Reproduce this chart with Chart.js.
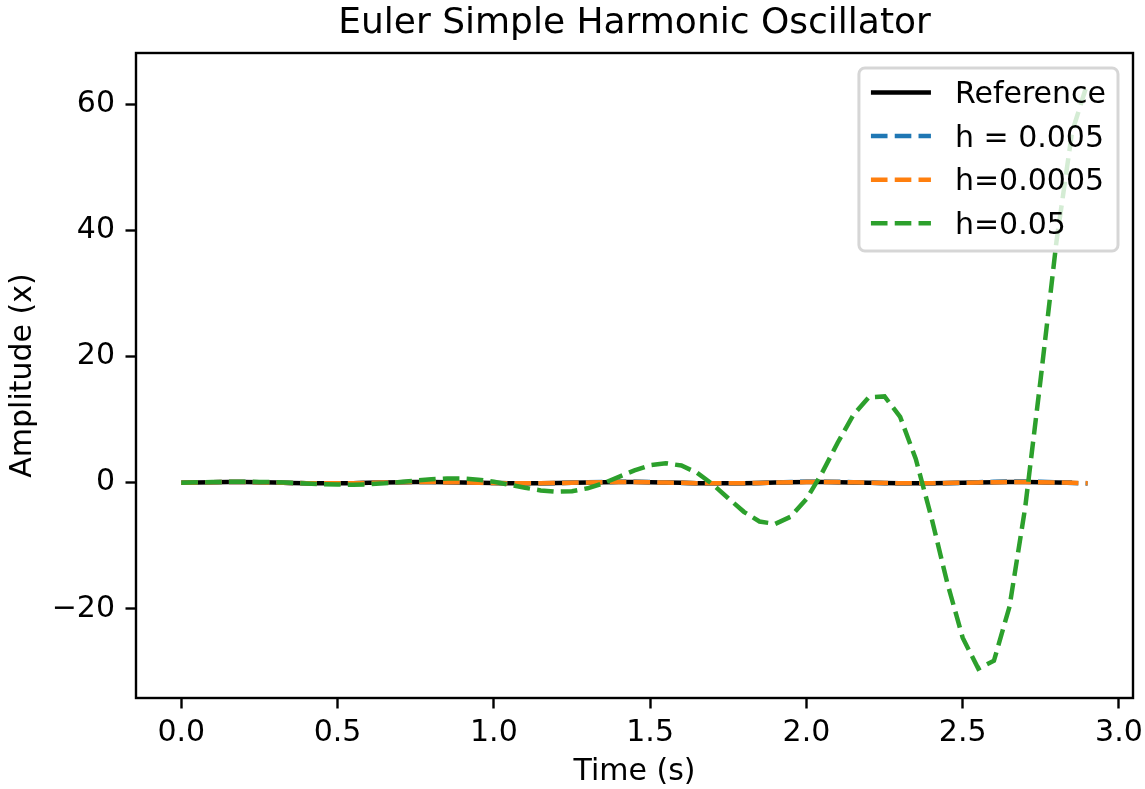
<!DOCTYPE html>
<html lang="en">
<head>
    <meta charset="UTF-8">
    <title>Euler Simple Harmonic Oscillator</title>
    <script src="https://cdn.jsdelivr.net/npm/chart.js"></script>
    <style>
        body {
            margin: 0;
            background-color: #ffffff;
        }
        .chart-box {
            width: 1145px;
            height: 789px;
        }
    </style>
</head>
<body>
    <div class="chart-box">
        <canvas id="oscChart" width="1145" height="789"></canvas>
    </div>

    <script>
        // time samples (s), step 0.05
        var timeS = [0, 0.05, 0.1, 0.15, 0.2, 0.25, 0.3, 0.35, 0.4, 0.45,
                     0.5, 0.55, 0.6, 0.65, 0.7, 0.75, 0.8, 0.85, 0.9, 0.95,
                     1.0, 1.05, 1.1, 1.15, 1.2, 1.25, 1.3, 1.35, 1.4, 1.45,
                     1.5, 1.55, 1.6, 1.65, 1.7, 1.75, 1.8, 1.85, 1.9, 1.95,
                     2.0, 2.05, 2.1, 2.15, 2.2, 2.25, 2.3, 2.35, 2.4, 2.45,
                     2.5, 2.55, 2.6, 2.65, 2.7, 2.75, 2.8, 2.85, 2.9];

        // amplitude (x) per series
        var reference = [0, 0.048, 0.084, 0.100, 0.091, 0.060, 0.014, -0.035, -0.076, -0.098,
                         -0.096, -0.071, -0.028, 0.022, 0.066, 0.094, 0.099, 0.080, 0.041, -0.008,
                         -0.054, -0.088, -0.100, -0.088, -0.054, -0.007, 0.042, 0.080, 0.099, 0.093,
                         0.065, 0.021, -0.029, -0.071, -0.096, -0.098, -0.075, -0.034, 0.015, 0.060,
                         0.091, 0.100, 0.084, 0.047, -0.001, -0.049, -0.085, -0.100, -0.091, -0.059,
                         -0.013, 0.036, 0.076, 0.098, 0.096, 0.070, 0.027, -0.022];
        var h0005 = [0, 0.049, 0.086, 0.104, 0.096, 0.064, 0.015, -0.038, -0.084, -0.110,
                     -0.109, -0.081, -0.033, 0.026, 0.078, 0.113, 0.121, 0.099, 0.051, -0.010,
                     -0.069, -0.114, -0.132, -0.117, -0.073, -0.009, 0.058, 0.112, 0.141, 0.134,
                     0.095, 0.031, -0.043, -0.108, -0.147, -0.151, -0.118, -0.054, 0.024, 0.098,
                     0.151, 0.166, 0.141, 0.080, -0.002, -0.086, -0.150, -0.180, -0.165, -0.109,
                     -0.025, 0.068, 0.146, 0.190, 0.188, 0.139, 0.055, -0.046, -0.137];
        var h00005 = [0, 0.048, 0.084, 0.100, 0.091, 0.060, 0.014, -0.035, -0.077, -0.099,
                      -0.097, -0.072, -0.029, 0.022, 0.067, 0.096, 0.101, 0.082, 0.042, -0.008,
                      -0.056, -0.091, -0.103, -0.091, -0.056, -0.007, 0.044, 0.083, 0.103, 0.097,
                      0.068, 0.022, -0.030, -0.074, -0.101, -0.103, -0.079, -0.036, 0.016, 0.063,
                      0.096, 0.105, 0.089, 0.050, -0.001, -0.052, -0.090, -0.107, -0.097, -0.063,
                      -0.014, 0.039, 0.081, 0.105, 0.102, 0.075, 0.029, -0.024, -0.071];
        var h005 = [0, 0.05, 0.1, 0.138, 0.15, 0.128, 0.069, -0.023, -0.131, -0.234,
                    -0.304, -0.316, -0.251, -0.108, 0.098, 0.332, 0.540, 0.666, 0.657, 0.481,
                    0.141, -0.319, -0.815, -1.231, -1.443, -1.347, -0.890, -0.097, 0.918, 1.958,
                    2.769, 3.090, 2.718, 1.575, -0.249, -2.466, -4.621, -6.159, -6.542, -5.385,
                    -2.593, 1.545, 6.332, 10.732, 13.550, 13.684, 10.431, 3.757, -5.524, -15.746,
                    -24.586, -29.490, -28.247, -19.632, -3.955, 16.630, 38.203, 55.619, 63.485];

        var seriesLabels = ['Reference', 'h = 0.005', 'h=0.0005', 'h=0.05'];
        var xTicks = [0, 0.5, 1.0, 1.5, 2.0, 2.5, 3.0];
        var yTicks = [-20, 0, 20, 40, 60];

        function pairs(ys) {
            return ys.map(function(y, i) { return {x: timeS[i], y: y}; });
        }

        Chart.defaults.font.family = "'DejaVu Sans', sans-serif";
        Chart.defaults.color = '#000000';

        var lineW = 4.5;
        var dash = [16.6, 7.2];

        // axes frame + matplotlib-like legend inside the plot
        var frameLegend = {
            id: 'frameLegend',
            afterDatasetsDraw: function(chart) {
                var ctx = chart.ctx, a = chart.chartArea;
                ctx.save();
                ctx.strokeStyle = '#000000';
                ctx.lineWidth = 2.4;
                ctx.strokeRect(a.left, a.top, a.right - a.left, a.bottom - a.top);

                var fs = 30;
                ctx.font = fs + "px 'DejaVu Sans'";
                var textW = Math.max.apply(null, seriesLabels.map(function(t) { return ctx.measureText(t).width; }));
                var boxW = 0.4 * fs + 2 * fs + 0.8 * fs + textW + 0.4 * fs;
                var boxH = 183;
                var right = a.right - 0.5 * fs;
                var top = a.top + 0.5 * fs;
                var left = right - boxW;
                ctx.beginPath();
                ctx.roundRect(left, top, boxW, boxH, 6);
                ctx.fillStyle = 'rgba(255,255,255,0.8)';
                ctx.fill();
                ctx.strokeStyle = 'rgba(204,204,204,0.8)';
                ctx.lineWidth = 3;
                ctx.stroke();

                chart.data.datasets.forEach(function(ds, i) {
                    var cy = top + 24.5 + i * 43.6;
                    var hx = left + 0.4 * fs;
                    ctx.beginPath();
                    ctx.setLineDash(ds.borderDash || []);
                    ctx.strokeStyle = ds.borderColor;
                    ctx.lineWidth = ds.borderWidth;
                    ctx.moveTo(hx, cy);
                    ctx.lineTo(hx + 2 * fs, cy);
                    ctx.stroke();
                    ctx.setLineDash([]);
                    ctx.fillStyle = '#000000';
                    ctx.textAlign = 'left';
                    ctx.textBaseline = 'alphabetic';
                    ctx.fillText(ds.label, hx + 2.8 * fs, cy + 10.5);
                });
                ctx.restore();
            }
        };

        var ctxOsc = document.getElementById('oscChart').getContext('2d');
        var oscChart = new Chart(ctxOsc, {
            type: 'line',
            data: {
                datasets: [{
                    label: seriesLabels[0],
                    data: pairs(reference),
                    borderColor: '#000000',
                    borderWidth: lineW,
                    order: 4
                }, {
                    label: seriesLabels[1],
                    data: pairs(h0005),
                    borderColor: '#1f77b4',
                    borderWidth: lineW,
                    borderDash: dash,
                    order: 3
                }, {
                    label: seriesLabels[2],
                    data: pairs(h00005),
                    borderColor: '#ff7f0e',
                    borderWidth: lineW,
                    borderDash: dash,
                    order: 2
                }, {
                    label: seriesLabels[3],
                    data: pairs(h005),
                    borderColor: '#2ca02c',
                    borderWidth: lineW,
                    borderDash: dash,
                    order: 1
                }]
            },
            options: {
                responsive: false,
                animation: false,
                elements: {
                    point: { radius: 0 },
                    line: { tension: 0, fill: false, borderCapStyle: 'butt' }
                },
                layout: { padding: { left: 0, right: 12, top: 0, bottom: 0 } },
                plugins: {
                    legend: { display: false },
                    tooltip: { enabled: false },
                    title: {
                        display: true,
                        fullSize: false,
                        text: 'Euler Simple Harmonic Oscillator',
                        color: '#000000',
                        font: { size: 36, weight: 'normal', lineHeight: 1.2 },
                        padding: { top: 2, bottom: 7.8 }
                    }
                },
                scales: {
                    x: {
                        type: 'linear',
                        min: -0.145,
                        max: 3.045,
                        afterBuildTicks: function(s) { s.ticks = xTicks.map(function(v) { return {value: v}; }); },
                        afterFit: function(s) {
                            s.height = 91;
                            s.paddingLeft = 0;
                            s.paddingRight = 0;
                        },
                        ticks: {
                            color: '#000000',
                            font: { size: 30 },
                            padding: 7,
                            maxRotation: 0,
                            autoSkip: false,
                            callback: function(v) { return Number(v).toFixed(1); }
                        },
                        grid: { display: true, drawOnChartArea: false, drawTicks: true, tickLength: 10.5, tickWidth: 2.4, tickColor: '#000000' },
                        border: { display: false },
                        title: {
                            display: true,
                            text: 'Time (s)',
                            color: '#000000',
                            font: { size: 30, lineHeight: 1 },
                            padding: { top: 0, bottom: 1.4 }
                        }
                    },
                    y: {
                        type: 'linear',
                        min: -34.15,
                        max: 68.15,
                        afterBuildTicks: function(s) { s.ticks = yTicks.map(function(v) { return {value: v}; }); },
                        afterFit: function(s) {
                            s.width = 136;
                            s.paddingTop = 0;
                            s.paddingBottom = 0;
                        },
                        ticks: {
                            color: '#000000',
                            font: { size: 30 },
                            padding: 10.5,
                            autoSkip: false,
                            callback: function(v) { return v < 0 ? '\u2212' + Math.abs(v) : String(v); }
                        },
                        grid: { display: true, drawOnChartArea: false, drawTicks: true, tickLength: 10.5, tickWidth: 2.4, tickColor: '#000000' },
                        border: { display: false },
                        title: {
                            display: true,
                            text: 'Amplitude (x)',
                            color: '#000000',
                            font: { size: 30, lineHeight: 1 },
                            padding: { top: 8.5, bottom: 0 }
                        }
                    }
                }
            },
            plugins: [frameLegend]
        });
    </script>
</body>
</html>
